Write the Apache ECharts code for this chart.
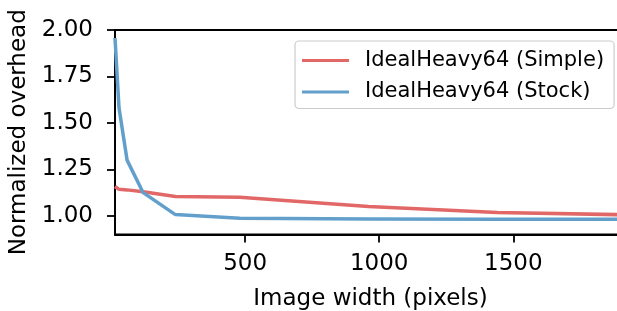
<!DOCTYPE html>
<html>
<head>
<meta charset="utf-8">
<script src="https://cdn.jsdelivr.net/npm/echarts@6/dist/echarts.min.js"></script>
<style>
html,body{margin:0;padding:0;background:#fff;}
#chart{width:617px;height:311px;}
</style>
</head>
<body>
<div id="chart"></div>
<script>
// Data
var widths = [15, 30, 60, 120, 240, 480, 960, 1440, 1920];
var simpleOverhead = [1.158, 1.143, 1.140, 1.130, 1.104, 1.100, 1.050, 1.019, 1.006];
var stockOverhead  = [1.957, 1.580, 1.300, 1.125, 1.007, 0.987, 0.984, 0.982, 0.982];
var seriesNames = ['IdealHeavy64 (Simple)', 'IdealHeavy64 (Stock)'];
var xTicks = [500, 1000, 1500];
var yTicks = [1.00, 1.25, 1.50, 1.75, 2.00];

function pairs(xs, ys) { return xs.map(function (x, i) { return [x, ys[i]]; }); }

var font = 'DejaVu Sans';
var chart = echarts.init(document.getElementById('chart'), null, {renderer: 'canvas'});
chart.setOption({
  animation: false,
  backgroundColor: '#ffffff',
  grid: {left: 115, right: -9, top: 30, bottom: 76.5, show: true, borderColor: '#000', borderWidth: 1.8,
    containLabel: false, outerBoundsMode: 'none'},
  legend: {
    orient: 'vertical',
    left: 295, top: 41,
    padding: [9, 10, 6, 7],
    itemGap: 10.5,
    itemWidth: 47, itemHeight: 3,
    icon: 'rect',
    backgroundColor: 'rgba(255,255,255,0.8)',
    borderColor: '#cccccc', borderWidth: 1.2, borderRadius: 4,
    textStyle: {fontFamily: font, fontSize: 21, color: '#000', padding: [0, 0, 0, 11]},
    data: seriesNames
  },
  xAxis: {
    type: 'value', min: 15, max: 1920,
    name: 'Image width (pixels)', nameLocation: 'middle', nameGap: 53,
    nameTextStyle: {fontFamily: font, fontSize: 23, color: '#000'},
    axisLine: {show: true, onZero: false, lineStyle: {color: '#000', width: 1.8}},
    axisTick: {show: true, length: 8, customValues: xTicks, lineStyle: {color: '#000', width: 1.8}},
    axisLabel: {customValues: xTicks, margin: 18, fontFamily: font, fontSize: 23, color: '#000',
      formatter: function (v) { return String(Math.round(v)); }},
    splitLine: {show: false}
  },
  yAxis: {
    type: 'value', min: 0.9, max: 2.0,
    name: 'Normalized overhead', nameLocation: 'middle', nameGap: 83,
    nameTextStyle: {fontFamily: font, fontSize: 23, color: '#000'},
    axisLine: {show: true, onZero: false, lineStyle: {color: '#000', width: 1.8}},
    axisTick: {show: true, length: 8, customValues: yTicks, lineStyle: {color: '#000', width: 1.8}},
    axisLabel: {customValues: yTicks, margin: 22, fontFamily: font, fontSize: 23, color: '#000',
      formatter: function (v) { return v.toFixed(2); }},
    splitLine: {show: false}
  },
  series: [
    {name: seriesNames[0], type: 'line', data: pairs(widths, simpleOverhead), showSymbol: false, symbol: 'none',
      clip: true, lineStyle: {color: 'rgb(226,104,104)', width: 3.5}, itemStyle: {color: 'rgb(226,104,104)'}, z: 3},
    {name: seriesNames[1], type: 'line', data: pairs(widths, stockOverhead), showSymbol: false, symbol: 'none',
      clip: true, lineStyle: {color: 'rgb(98,160,203)', width: 3.5}, itemStyle: {color: 'rgb(98,160,203)'}, z: 4}
  ]
});
</script>
</body>
</html>
